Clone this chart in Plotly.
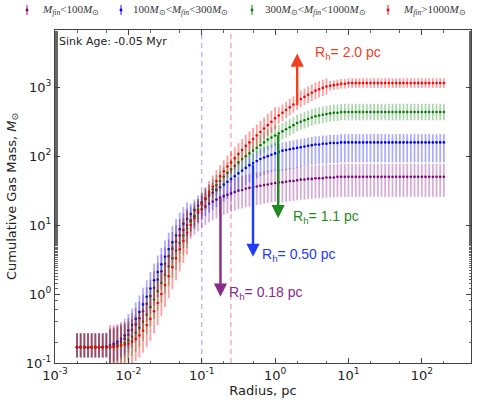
import numpy as np
import plotly.graph_objects as go

# ---------------- data (log10 values) ----------------
log_radius = [
    -2.70, -2.65, -2.60, -2.55, -2.50, -2.45, -2.40, -2.35, -2.30, -2.25,
    -2.20, -2.15, -2.10, -2.05, -2.00, -1.95, -1.90, -1.85, -1.80, -1.75,
    -1.70, -1.65, -1.60, -1.55, -1.50, -1.45, -1.40, -1.35, -1.30, -1.25,
    -1.20, -1.15, -1.10, -1.05, -1.00, -0.95, -0.90, -0.85, -0.80, -0.75,
    -0.70, -0.65, -0.60, -0.55, -0.50, -0.45, -0.40, -0.35, -0.30, -0.25,
    -0.20, -0.15, -0.10, -0.05, 0.00, 0.05, 0.10, 0.15, 0.20, 0.25,
    0.30, 0.35, 0.40, 0.45, 0.50, 0.55, 0.60, 0.65, 0.70, 0.75,
    0.80, 0.85, 0.90, 0.95, 1.00, 1.05, 1.10, 1.15, 1.20, 1.25,
    1.30, 1.35, 1.40, 1.45, 1.50, 1.55, 1.60, 1.65, 1.70, 1.75,
    1.80, 1.85, 1.90, 1.95, 2.00, 2.05, 2.10, 2.15, 2.20, 2.25,
    2.30]

logm_purple = [
    -0.77, -0.77, -0.77, -0.77, -0.77, -0.77, -0.77, -0.77, -0.77, -0.76,
    -0.74, -0.72, -0.69, -0.65, -0.59, -0.52, -0.44, -0.35, -0.25, -0.14,
    -0.03, 0.09, 0.21, 0.33, 0.44, 0.55, 0.66, 0.76, 0.85, 0.93,
    1.00, 1.07, 1.13, 1.18, 1.23, 1.27, 1.31, 1.34, 1.37, 1.40,
    1.42, 1.44, 1.46, 1.48, 1.50, 1.51, 1.53, 1.54, 1.55, 1.56,
    1.57, 1.58, 1.59, 1.60, 1.61, 1.62, 1.62, 1.63, 1.64, 1.64,
    1.65, 1.66, 1.66, 1.67, 1.67, 1.68, 1.68, 1.68, 1.69, 1.69,
    1.69, 1.70, 1.70, 1.70, 1.70, 1.70, 1.70, 1.70, 1.70, 1.70,
    1.70, 1.70, 1.70, 1.70, 1.70, 1.70, 1.70, 1.70, 1.70, 1.70,
    1.70, 1.70, 1.70, 1.70, 1.70, 1.70, 1.70, 1.70, 1.70, 1.70,
    1.70]

logm_blue = [
    -0.77, -0.77, -0.77, -0.77, -0.77, -0.77, -0.77, -0.77, -0.76, -0.74,
    -0.72, -0.69, -0.65, -0.60, -0.53, -0.45, -0.36, -0.26, -0.15, -0.04,
    0.08, 0.20, 0.32, 0.43, 0.54, 0.65, 0.75, 0.85, 0.94, 1.02,
    1.09, 1.16, 1.22, 1.28, 1.33, 1.38, 1.43, 1.47, 1.51, 1.55,
    1.59, 1.63, 1.67, 1.71, 1.75, 1.79, 1.83, 1.87, 1.90, 1.93,
    1.96, 1.98, 2.00, 2.02, 2.04, 2.06, 2.08, 2.09, 2.10, 2.11,
    2.12, 2.13, 2.14, 2.15, 2.16, 2.17, 2.17, 2.18, 2.18, 2.19,
    2.19, 2.19, 2.20, 2.20, 2.20, 2.20, 2.20, 2.20, 2.20, 2.20,
    2.20, 2.20, 2.20, 2.20, 2.20, 2.20, 2.20, 2.20, 2.20, 2.20,
    2.20, 2.20, 2.20, 2.20, 2.20, 2.20, 2.20, 2.20, 2.20, 2.20,
    2.20]

logm_green = [
    -0.77, -0.77, -0.77, -0.77, -0.77, -0.77, -0.77, -0.77, -0.77, -0.77,
    -0.76, -0.75, -0.73, -0.71, -0.67, -0.62, -0.56, -0.49, -0.40, -0.30,
    -0.19, -0.08, 0.04, 0.16, 0.28, 0.40, 0.52, 0.63, 0.74, 0.85,
    0.95, 1.05, 1.14, 1.23, 1.31, 1.38, 1.45, 1.52, 1.58, 1.64,
    1.70, 1.76, 1.81, 1.86, 1.91, 1.96, 2.00, 2.04, 2.08, 2.12,
    2.16, 2.20, 2.24, 2.27, 2.30, 2.33, 2.36, 2.39, 2.42, 2.45,
    2.48, 2.50, 2.52, 2.54, 2.56, 2.58, 2.59, 2.60, 2.61, 2.62,
    2.63, 2.63, 2.64, 2.64, 2.64, 2.64, 2.64, 2.64, 2.64, 2.64,
    2.64, 2.64, 2.64, 2.64, 2.64, 2.64, 2.64, 2.64, 2.64, 2.64,
    2.64, 2.64, 2.64, 2.64, 2.64, 2.64, 2.64, 2.64, 2.64, 2.64,
    2.64]

logm_red = [
    -0.77, -0.77, -0.77, -0.77, -0.77, -0.77, -0.77, -0.77, -0.77, -0.77,
    -0.77, -0.76, -0.75, -0.74, -0.72, -0.69, -0.65, -0.60, -0.53, -0.45,
    -0.36, -0.25, -0.13, 0.00, 0.13, 0.26, 0.39, 0.52, 0.65, 0.77,
    0.89, 1.00, 1.10, 1.20, 1.30, 1.39, 1.48, 1.56, 1.64, 1.71,
    1.78, 1.85, 1.91, 1.97, 2.03, 2.09, 2.15, 2.20, 2.25, 2.30,
    2.35, 2.40, 2.45, 2.50, 2.55, 2.59, 2.63, 2.67, 2.71, 2.75,
    2.79, 2.83, 2.86, 2.89, 2.92, 2.95, 2.97, 2.99, 3.01, 3.02,
    3.03, 3.04, 3.05, 3.05, 3.06, 3.06, 3.06, 3.06, 3.06, 3.06,
    3.06, 3.06, 3.06, 3.06, 3.06, 3.06, 3.06, 3.06, 3.06, 3.06,
    3.06, 3.06, 3.06, 3.06, 3.06, 3.06, 3.06, 3.06, 3.06, 3.06,
    3.06]

# error bar half-lengths (dex) above / below each point
err_up_purple = [0.20] * 9 + [0.24] * 22 + [0.20] * 24 + [0.19] * 46
err_dn_purple = [0.15] * 9 + [0.26] * 22 + [0.27] * 24 + [0.29] * 46
err_up_blue = [0.20] * 9 + [0.24] * 22 + [0.15] * 24 + [0.12] * 46
err_dn_blue = [0.15] * 9 + [0.26] * 22 + [0.25] * 24 + [0.29] * 46
err_up_green = [0.20] * 9 + [0.26] * 22 + [0.15] * 24 + [0.12] * 46
err_dn_green = [0.15] * 9 + [0.28] * 22 + [0.15] * 24 + [0.12] * 46
err_up_red = [0.20] * 9 + [0.32] * 22 + [0.16] * 24 + [0.12] * 14 + [0.07] * 32
err_dn_red = [0.15] * 9 + [0.32] * 22 + [0.16] * 24 + [0.12] * 14 + [0.07] * 32

series_names = ["M_fin<100", "100<M_fin<300", "300<M_fin<1000", "M_fin>1000"]
legend_labels = [
    "<i>M</i><sub><i>fin</i></sub>&lt;100<i>M</i><sub>⊙</sub>",
    "100<i>M</i><sub>⊙</sub>&lt;<i>M</i><sub><i>fin</i></sub>&lt;300<i>M</i><sub>⊙</sub>",
    "300<i>M</i><sub>⊙</sub>&lt;<i>M</i><sub><i>fin</i></sub>&lt;1000<i>M</i><sub>⊙</sub>",
    "<i>M</i><sub><i>fin</i></sub>&gt;1000<i>M</i><sub>⊙</sub>",
]
series_colors = ["#800080", "#0000ff", "#008000", "#ff0000"]
bar_colors = ["rgba(128,0,128,0.32)", "rgba(0,0,255,0.32)",
              "rgba(0,128,0,0.32)", "rgba(255,0,0,0.38)"]
legend_bar_colors = ["rgba(128,0,128,0.6)", "rgba(0,0,255,0.6)",
                     "rgba(0,128,0,0.6)", "rgba(255,0,0,0.6)"]

# half-mass radii (pc) and labels
half_mass_radius = [0.18, 0.50, 1.1, 2.0]
half_mass_text = ["R<sub>h</sub>= 0.18 pc", "R<sub>h</sub>= 0.50 pc",
                  "R<sub>h</sub>= 1.1 pc", "R<sub>h</sub>= 2.0 pc"]
arrow_colors = ["#8a2a8a", "#1e3cf5", "#1f8a1f", "#f0401e"]
# arrow tail / head (log10 mass) and label anchor (log10 radius, log10 mass)
arrow_tail = [1.41, 1.90, 2.33, 2.72]
arrow_head = [-0.04, 0.54, 1.10, 3.49]
label_pos = [(-0.66, 0.02), (-0.21, 0.57), (0.22, 1.12), (0.52, 3.49)]

ref_radii = [0.1, 0.25]
ref_colors = ["rgba(110,110,255,0.55)", "rgba(255,110,110,0.65)"]

tick_exponents_x = [-3, -2, -1, 0, 1, 2]
tick_exponents_y = [-1, 0, 1, 2, 3]

sink_age_text = "Sink Age: -0.05 Myr"

# ---------------- figure ----------------
radius = 10 ** np.array(log_radius)
logms = [logm_purple, logm_blue, logm_green, logm_red]
ups = [err_up_purple, err_up_blue, err_up_green, err_up_red]
dns = [err_dn_purple, err_dn_blue, err_dn_green, err_dn_red]

fig = go.Figure()
for name, lm, up, dn, col, bcol in zip(series_names, logms, ups, dns,
                                        series_colors, bar_colors):
    lm = np.array(lm)
    m = 10 ** lm
    plus = 10 ** (lm + np.array(up)) - m
    minus = m - 10 ** (lm - np.array(dn))
    fig.add_trace(go.Scatter(
        x=radius, y=m, mode="markers", name=name, showlegend=False,
        marker=dict(color=col, size=2.6),
        error_y=dict(type="data", array=plus, arrayminus=minus,
                     color=bcol, thickness=1.8, width=0),
    ))

for xr, c in zip(ref_radii, ref_colors):
    fig.add_shape(type="line", xref="x", yref="paper", x0=xr, x1=xr,
                  y0=0, y1=1, line=dict(color=c, width=1.3, dash="5px,4px"),
                  layer="below")

for r, txt, c, ta, he, lp in zip(half_mass_radius, half_mass_text,
                                 arrow_colors, arrow_tail, arrow_head,
                                 label_pos):
    lx = float(np.log10(r))
    fig.add_annotation(x=lx, y=he, ax=lx, ay=ta, xref="x", yref="y",
                       axref="x", ayref="y", text="", showarrow=True,
                       arrowhead=2, arrowsize=1.1, arrowwidth=2.4,
                       arrowcolor=c, standoff=0, startstandoff=0)
    fig.add_annotation(x=lp[0], y=lp[1], xref="x", yref="y", text=txt,
                       showarrow=False, xanchor="left", yanchor="middle",
                       font=dict(family="Liberation Sans, Arial", size=14,
                                 color=c))

fig.add_annotation(x=0.006, y=0.992, xref="paper", yref="paper",
                   text=sink_age_text, showarrow=False, xanchor="left",
                   yanchor="top",
                   font=dict(family="DejaVu Sans", size=11, color="#222"))

# manual legend row above the plot
leg_marker_px = [27, 121, 252, 388]
leg_text_px = [40, 131, 263, 401]
plot_l, plot_r, plot_t, plot_b = 55, 471, 30, 363
pw, ph = plot_r - plot_l, plot_b - plot_t
def px2paper_x(p):
    return (p - plot_l) / pw
def py2paper_y(p):
    return (plot_b - p) / ph
for mx, tx, lab, col, lcol in zip(leg_marker_px, leg_text_px, legend_labels,
                                  series_colors, legend_bar_colors):
    fig.add_shape(type="line", xref="paper", yref="paper",
                  x0=px2paper_x(mx), x1=px2paper_x(mx),
                  y0=py2paper_y(5), y1=py2paper_y(15),
                  line=dict(color=lcol, width=1.5))
    fig.add_shape(type="circle", xref="paper", yref="paper",
                  x0=px2paper_x(mx - 1.2), x1=px2paper_x(mx + 1.2),
                  y0=py2paper_y(11.2), y1=py2paper_y(8.8),
                  fillcolor=col, line=dict(color=col, width=0.5))
    fig.add_annotation(x=px2paper_x(tx), y=py2paper_y(10), xref="paper",
                       yref="paper", text=lab, showarrow=False,
                       xanchor="left", yanchor="middle",
                       font=dict(family="Liberation Serif", size=11,
                                 color="#333"))

axis_common = dict(
    type="log", showgrid=False, zeroline=False, showline=True, mirror="allticks",
    linecolor="#444", linewidth=1, ticks="inside", ticklen=5, tickwidth=1,
    tickcolor="#444",
    tickfont=dict(family="DejaVu Sans", size=13, color="#222"),
    minor=dict(ticks="inside", ticklen=2.5, tickcolor="#666", showgrid=False),
)
fig.update_xaxes(**axis_common, range=[-3, 2.67],
                 tickvals=[10.0 ** e for e in tick_exponents_x],
                 ticktext=["10<sup>%d</sup>" % e for e in tick_exponents_x],
                 title=dict(text="Radius, pc", standoff=4,
                            font=dict(family="DejaVu Sans", size=13,
                                      color="#222")))
fig.update_yaxes(**axis_common, range=[-1, 3.83],
                 tickvals=[10.0 ** e for e in tick_exponents_y],
                 ticktext=["10<sup>%d</sup>" % e for e in tick_exponents_y],
                 title=dict(text="Cumulative Gas Mass, <i>M</i><sub>⊙</sub>",
                            standoff=6,
                            font=dict(family="DejaVu Sans", size=13,
                                      color="#222")))

fig.update_layout(
    width=477, height=404,
    margin=dict(l=55, r=6, t=30, b=41),
    plot_bgcolor="white", paper_bgcolor="white",
    showlegend=False,
)

fig.write_html("out.html")
